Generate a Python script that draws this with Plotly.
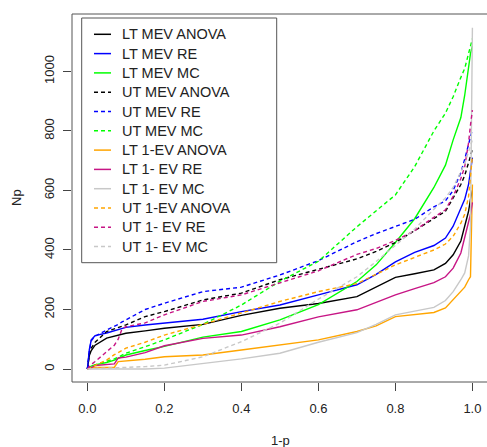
import plotly.graph_objects as go

# common x grid (1-p)
x_grid = [0, 0.005, 0.01, 0.02, 0.05, 0.07, 0.08, 0.09, 0.1, 0.15, 0.2, 0.3, 0.4, 0.5,
          0.6, 0.7, 0.75, 0.8, 0.85, 0.9, 0.93, 0.95, 0.97, 0.98, 0.99, 0.995, 1.0]

lt_mev_anova = [0, 45, 62, 80, 104, 110, 115, 118, 120, 128, 137, 150, 180, 204,
                220, 243, 275, 308, 320, 333, 355, 384, 430, 480, 530, 570, 600]
lt_mev_re = [0, 65, 98, 112, 121, 128, 133, 137, 140, 148, 154, 167, 193, 215,
             249, 283, 318, 360, 392, 415, 440, 480, 540, 570, 620, 660, 710]
lt_mev_mc = [0, 5, 10, 14, 22, 30, 35, 42, 47, 62, 76, 107, 126, 165,
             216, 294, 350, 425, 505, 610, 685, 770, 845, 920, 1010, 1060, 1085]
ut_mev_anova = [0, 50, 70, 90, 126, 135, 140, 145, 148, 176, 193, 232, 255, 300,
                336, 370, 395, 425, 465, 505, 530, 575, 620, 650, 690, 715, 740]
ut_mev_re = [0, 60, 95, 110, 131, 143, 150, 158, 165, 200, 221, 260, 275, 316,
             364, 428, 455, 480, 503, 545, 565, 600, 660, 705, 750, 780, 805]
ut_mev_mc = [0, 5, 8, 14, 25, 34, 40, 47, 53, 75, 98, 150, 215, 295,
             362, 478, 530, 585, 680, 800, 860, 915, 980, 1010, 1060, 1090, 1110]
lt_1ev_anova = [0, 2, 4, 5, 5, 6, 25, 26, 27, 33, 41, 47, 64, 81,
                98, 126, 145, 176, 182, 190, 205, 232, 260, 275, 300, 310, 620]
lt_1ev_re = [0, 2, 5, 12, 16, 17, 37, 38, 40, 55, 78, 103, 114, 142,
             175, 199, 225, 249, 270, 290, 310, 339, 390, 440, 490, 520, 560]
lt_1ev_mc = [0, 0, 0, 0, 0, 0, 0, 0, 0, 0, 3, 19, 34, 53,
             90, 122, 150, 182, 195, 207, 230, 260, 300, 323, 380, 480, 1147]
ut_1ev_anova = [0, 3, 6, 12, 30, 48, 55, 63, 70, 90, 114, 150, 188, 227,
                260, 287, 318, 350, 375, 400, 420, 446, 490, 520, 580, 640, 715]
ut_1ev_re = [0, 8, 15, 25, 58, 80, 100, 135, 142, 155, 182, 227, 249, 289,
             330, 385, 405, 432, 465, 510, 535, 580, 640, 680, 760, 820, 870]
ut_1ev_mc = [0, 0, 1, 2, 3, 4, 4, 5, 5, 8, 13, 41, 92, 154,
             235, 310, 361, 415, 470, 537, 575, 610, 660, 690, 730, 750, 770]

series_names = ["LT MEV ANOVA", "LT MEV RE", "LT MEV MC",
                "UT MEV ANOVA", "UT MEV RE", "UT MEV MC",
                "LT 1-EV ANOVA", "LT 1- EV RE", "LT 1- EV MC",
                "UT 1-EV ANOVA", "UT 1- EV RE", "UT 1- EV MC"]
series_values = [lt_mev_anova, lt_mev_re, lt_mev_mc,
                 ut_mev_anova, ut_mev_re, ut_mev_mc,
                 lt_1ev_anova, lt_1ev_re, lt_1ev_mc,
                 ut_1ev_anova, ut_1ev_re, ut_1ev_mc]
series_colors = ["#000000", "#0000FF", "#00FF00",
                 "#000000", "#0000FF", "#00FF00",
                 "#FFA500", "#C71585", "#C8C8C8",
                 "#FFA500", "#C71585", "#C8C8C8"]
series_dash = ["solid", "solid", "solid", "4px,3px", "4px,3px", "4px,3px",
               "solid", "solid", "solid", "4px,3px", "4px,3px", "4px,3px"]

x_ticks = [0, 0.2, 0.4, 0.6, 0.8, 1.0]
x_ticklabels = ["0.0", "0.2", "0.4", "0.6", "0.8", "1.0"]
y_ticks = [0, 200, 400, 600, 800, 1000]
y_ticklabels = ["0", "200", "400", "600", "800", "1000"]

FONT = "Liberation Sans, Arial, sans-serif"
W, H = 487, 447
ML, MR, MT, MB = 72, 0, 14, 65
PW, PH = W - ML - MR, H - MT - MB


def px2x(px):
    return (px - ML) / PW


def py2y(py):
    return (H - MB - py) / PH


fig = go.Figure()
for name, vals, col, dash in zip(series_names, series_values, series_colors, series_dash):
    fig.add_trace(go.Scatter(x=x_grid, y=vals, mode="lines", name=name,
                             line=dict(color=col, width=1.4, dash=dash)))

# legend (R-style box with short line samples)
shapes = [dict(type="rect", xref="paper", yref="paper",
               x0=px2x(81.7), x1=px2x(276.7), y0=py2y(262.7), y1=py2y(18),
               line=dict(color="#555", width=1), fillcolor="white", layer="above")]
annotations = []
for i, (name, col, dash) in enumerate(zip(series_names, series_colors, series_dash)):
    cy = py2y(34.3 + 19.3 * i)
    shapes.append(dict(type="line", xref="paper", yref="paper",
                       x0=px2x(94), x1=px2x(111), y0=cy, y1=cy,
                       line=dict(color=col, width=1.5, dash=dash), layer="above"))
    annotations.append(dict(text=name, xref="paper", yref="paper", x=px2x(119.5), y=cy,
                            xanchor="left", yanchor="middle", showarrow=False,
                            font=dict(family=FONT, size=14.5, color="#222")))

# plot box
shapes.append(dict(type="rect", xref="paper", yref="paper", x0=0, x1=1.01, y0=0, y1=1,
                   line=dict(color="#555", width=1), fillcolor="rgba(0,0,0,0)", layer="above"))

annotations += [
    dict(text="1-p", xref="paper", yref="paper", x=px2x(280), y=py2y(440), xanchor="center",
         yanchor="middle", showarrow=False, font=dict(family=FONT, size=13, color="#222")),
    dict(text="Np", xref="paper", yref="paper", x=px2x(16), y=py2y(198), xanchor="center",
         yanchor="middle", showarrow=False, textangle=-90,
         font=dict(family=FONT, size=13, color="#222")),
]

fig.update_layout(
    width=W, height=H,
    margin=dict(l=ML, r=MR, t=MT, b=MB),
    paper_bgcolor="white", plot_bgcolor="white",
    font=dict(family=FONT, size=13, color="#222"),
    showlegend=False,
    xaxis=dict(range=[-0.04, 1.0379], tickvals=x_ticks, ticktext=x_ticklabels,
               ticks="outside", ticklen=8, tickcolor="#444", showgrid=False,
               zeroline=False, showline=False, ticklabelstandoff=6,
               tickfont=dict(family=FONT, size=13, color="#222")),
    yaxis=dict(range=[-43.7, 1193], tickvals=y_ticks, ticktext=y_ticklabels,
               ticks="outside", ticklen=8, tickcolor="#444", showgrid=False,
               zeroline=False, showline=False, tickangle=-90, ticklabelstandoff=4,
               tickfont=dict(family=FONT, size=13, color="#222")),
    shapes=shapes,
    annotations=annotations,
)

fig.write_html("out.html", config={"displayModeBar": False},
               post_script="document.body.style.margin='0';document.body.style.padding='0';")
